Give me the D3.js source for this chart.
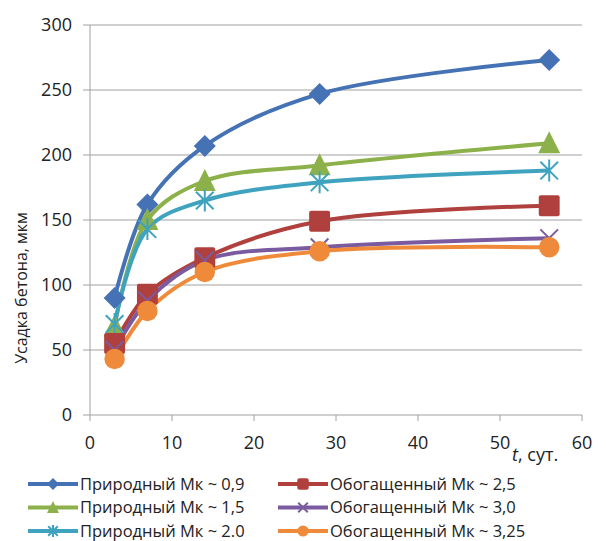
<!DOCTYPE html>
<html>
<head>
<meta charset="utf-8">
<script src="https://cdn.jsdelivr.net/npm/d3@7"></script>
<style>
  body { margin: 0; background: #fff; }
  text { font-family: "Open Sans", "Noto Sans", sans-serif; fill: #222; }
</style>
</head>
<body>
<div id="chart"></div>
<script>
// shrinkage data
const days = [3, 7, 14, 28, 56];
const seriesNames = [
    "Природный Мк ~ 0,9", "Природный Мк ~ 1,5", "Природный Мк ~ 2.0",
    "Обогащенный Мк ~ 2,5", "Обогащенный Мк ~ 3,0", "Обогащенный Мк ~ 3,25"
];
const nat09 = [90, 162, 207, 247, 273];
const nat15 = [68, 150, 180, 192, 209];
const nat20 = [70, 143, 165, 179, 188];
const enr25 = [55, 93, 121, 149, 161];
const enr30 = [50, 88, 119, 129, 136];
const enr325 = [43, 80, 110, 126, 129];
const xTicks = [0, 10, 20, 30, 40, 50, 60];
const yTicks = [0, 50, 100, 150, 200, 250, 300];

const colors = ["#4472b4", "#8db14a", "#3fa3bf", "#b0403d", "#7a5ba0", "#ef8a3a"];
const shapes = ["diamond", "triangle", "star", "square", "cross", "circle"];
const allSeries = [nat09, nat15, nat20, enr25, enr30, enr325];

const svgW = 606, svgH = 541;
const margin = { top: 25, right: 24, bottom: 126, left: 90 };
const plotW = svgW - margin.left - margin.right;
const plotH = svgH - margin.top - margin.bottom;

const svg = d3.select("#chart").append("svg")
    .attr("width", svgW)
    .attr("height", svgH);
const g = svg.append("g").attr("transform", `translate(${margin.left},${margin.top})`);

const x = d3.scaleLinear().domain([0, 60]).range([0, plotW]);
const y = d3.scaleLinear().domain([0, 300]).range([plotH, 0]);

// grid lines
g.selectAll(".grid").data(yTicks).enter().append("line")
    .attr("x1", -7).attr("x2", plotW)
    .attr("y1", d => y(d)).attr("y2", d => y(d))
    .attr("stroke", "#a0a0a0").attr("stroke-width", 1);

// y axis line
g.append("line").attr("x1", 0).attr("x2", 0).attr("y1", 0).attr("y2", plotH)
    .attr("stroke", "#a0a0a0");

g.selectAll(".ylab").data(yTicks).enter().append("text")
    .attr("x", -18).attr("y", d => y(d)).attr("dy", "0.36em")
    .attr("text-anchor", "end").attr("font-size", 18)
    .text(d => d);

// x tick marks and labels
g.selectAll(".xtick").data(xTicks).enter().append("line")
    .attr("x1", d => x(d)).attr("x2", d => x(d))
    .attr("y1", plotH).attr("y2", plotH + 6)
    .attr("stroke", "#a0a0a0");
g.selectAll(".xlab").data(xTicks).enter().append("text")
    .attr("x", d => x(d)).attr("y", plotH + 34)
    .attr("text-anchor", "middle").attr("font-size", 18)
    .text(d => d);

// axis titles
g.append("text")
    .attr("transform", `translate(${-63},${263}) rotate(-90)`)
    .attr("text-anchor", "middle").attr("font-size", 16)
    .text("Усадка бетона, мкм");
const xt = g.append("text")
    .attr("x", x(50) + 12).attr("y", plotH + 46)
    .attr("font-size", 18);
xt.append("tspan").attr("font-style", "italic").text("t");
xt.append("tspan").text(", сут.");

// markers
function drawMarker(sel, shape, color, size) {
    const s = size;
    if (shape === "diamond") {
        sel.append("path").attr("d", `M0,${-s}L${s},0L0,${s}L${-s},0Z`).attr("fill", color);
    } else if (shape === "triangle") {
        sel.append("path").attr("d", `M0,${-s * 1.1}L${s},${s * 0.9}L${-s},${s * 0.9}Z`).attr("fill", color);
    } else if (shape === "square") {
        sel.append("rect").attr("x", -s * 0.95).attr("y", -s * 0.95)
            .attr("width", s * 1.9).attr("height", s * 1.9).attr("rx", 2).attr("fill", color);
    } else if (shape === "circle") {
        sel.append("circle").attr("r", s * 0.93).attr("fill", color);
    } else if (shape === "cross") {
        const k = s * 0.8;
        sel.append("path").attr("d", `M${-k},${-k}L${k},${k}M${-k},${k}L${k},${-k}`)
            .attr("stroke", color).attr("stroke-width", 2).attr("fill", "none");
    } else if (shape === "star") {
        const k = s * 0.8;
        sel.append("path")
            .attr("d", `M${-k},${-k}L${k},${k}M${-k},${k}L${k},${-k}M0,${-s}L0,${s}`)
            .attr("stroke", color).attr("stroke-width", 2).attr("fill", "none");
    }
}

const line = d3.line()
    .x((d, i) => x(days[i]))
    .y(d => y(d))
    .curve(d3.curveCatmullRom.alpha(0.5));

allSeries.forEach(function (vals, k) {
    g.append("path")
        .datum(vals)
        .attr("d", line)
        .attr("fill", "none")
        .attr("stroke", colors[k])
        .attr("stroke-width", 4)
        .attr("stroke-linejoin", "round");
});
allSeries.forEach(function (vals, k) {
    vals.forEach(function (v, i) {
        const m = g.append("g").attr("transform", `translate(${x(days[i])},${y(v)})`);
        drawMarker(m, shapes[k], colors[k], 11);
    });
});

// legend
const legend = svg.append("g");
seriesNames.forEach(function (name, k) {
    const col = k < 3 ? 0 : 1;
    const row = k % 3;
    const lx = col === 0 ? 28 : 278;
    const ly = 484 + row * 23.5;
    const it = legend.append("g").attr("transform", `translate(${lx},${ly})`);
    it.append("line").attr("x1", 0).attr("x2", 50).attr("y1", 0).attr("y2", 0)
        .attr("stroke", colors[k]).attr("stroke-width", 4);
    const m = it.append("g").attr("transform", "translate(25,0)");
    drawMarker(m, shapes[k], colors[k], 6);
    it.append("text").attr("x", 52).attr("y", 0).attr("dy", "0.35em")
        .attr("font-size", 16.5).text(name);
});
</script>
</body>
</html>
